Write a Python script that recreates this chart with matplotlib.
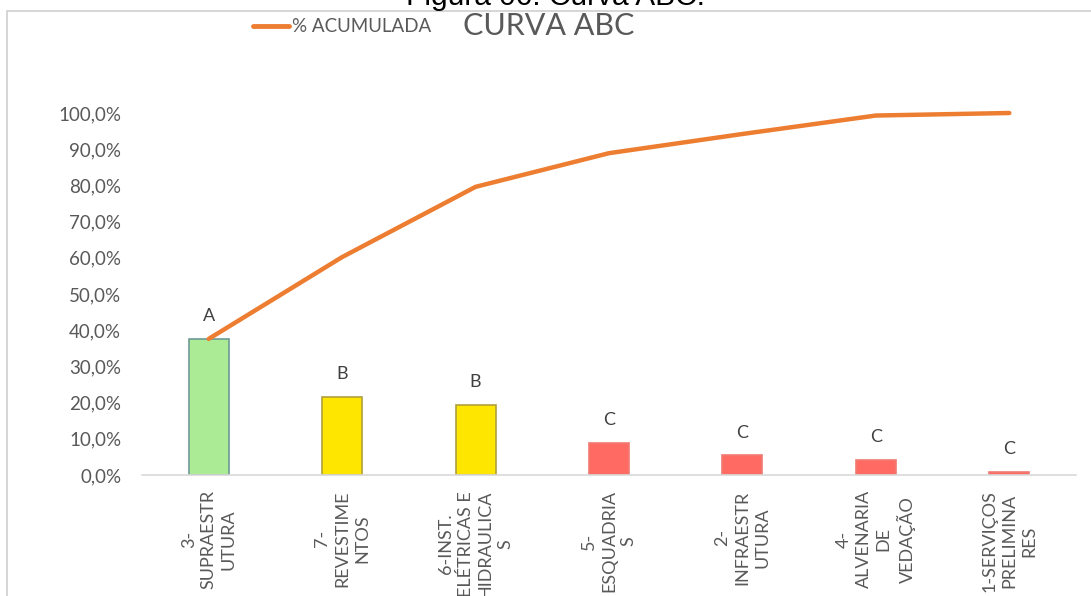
import matplotlib.pyplot as plt
from matplotlib.patches import Rectangle
from matplotlib.lines import Line2D
from matplotlib.ticker import FuncFormatter

# categories in pareto order
categorias = [
    "3-\nSUPRAESTR\nUTURA",
    "7-\nREVESTIME\nNTOS",
    "6-INST.\nELÉTRICAS E\nHIDRAULICA\nS",
    "5-\nESQUADRIA\nS",
    "2-\nINFRAESTR\nUTURA",
    "4-\nALVENARIA\nDE\nVEDAÇÃO",
    "1-SERVIÇOS\nPRELIMINA\nRES",
]
percentual = [0.376, 0.215, 0.193, 0.089, 0.054, 0.042, 0.008]
acumulada = [0.376, 0.602, 0.796, 0.889, 0.942, 0.993, 1.000]
classes = ["A", "B", "B", "C", "C", "C", "C"]
yticks = [0.0, 0.1, 0.2, 0.3, 0.4, 0.5, 0.6, 0.7, 0.8, 0.9, 1.0]

cor_classe = {"A": "#abeb96", "B": "#ffe600", "C": "#ff6b63"}
borda_classe = {"A": "#6d9b95", "B": "#b0a03c", "C": "#f07a72"}
cinza = "#595959"
laranja = "#ed7d31"

W, H = 1091, 596
fig = plt.figure(figsize=(W / 100, H / 100), dpi=100)
plt.rcParams['font.family'] = ['Lato', 'DejaVu Sans']

# plot area: 0% at y=475 px, 100% at y=113 px
x0, x1 = 142, 1076
ymax = 1.05
h = (475 - 113) * ymax
ax = fig.add_axes([x0 / W, 1 - 475 / H, (x1 - x0) / W, h / H])

xs = range(len(categorias))
cores = [cor_classe[c] for c in classes]
bordas = [borda_classe[c] for c in classes]
ax.bar(xs, percentual, width=0.3, color=cores, edgecolor=bordas, linewidth=1.2, zorder=2)
ax.plot(xs, acumulada, color=laranja, lw=3.2, solid_capstyle='round', zorder=3, clip_on=False)

for x, v, c in zip(xs, percentual, classes):
    ax.annotate(c, (x, v), xytext=(0, 16.5), textcoords='offset points',
                ha='center', va='center', fontsize=13, color="#404040")

ax.set_xlim(-0.5, len(categorias) - 0.5)
ax.set_ylim(0, ymax)
ax.set_yticks(yticks)
ax.yaxis.set_major_formatter(FuncFormatter(lambda v, p: f"{v * 100:.1f}%".replace(".", ",")))
ax.set_xticks(list(xs))
ax.set_xticklabels(categorias, rotation=90, ha='center', va='top', multialignment='center',
                   linespacing=1.3)
ax.tick_params(axis='y', length=0, pad=15, labelsize=13.5, labelcolor=cinza)
ax.tick_params(axis='x', length=0, pad=11, labelsize=13, labelcolor=cinza)
for s in ['top', 'right', 'left']:
    ax.spines[s].set_visible(False)
ax.spines['bottom'].set_color("#d9d9d9")
ax.spines['bottom'].set_linewidth(1.2)

# chart frame
fig.add_artist(Rectangle((7 / W, -0.1), 1.2, 1.1 - 11 / H, transform=fig.transFigure,
                         fill=False, edgecolor="#d0d0d0", lw=1.2))

# legend and chart title on one row
ty = 1 - 26 / H
fig.add_artist(Line2D([253 / W, 289 / W], [ty, ty], color=laranja, lw=3.5,
                      solid_capstyle='round', transform=fig.transFigure))
fig.text(292 / W, ty, "% ACUMULADA", fontsize=13.5, color=cinza, va='center', ha='left')
fig.text(463 / W, ty, "CURVA ABC", fontsize=22, color=cinza, va='center', ha='left')

# document caption cut by the top edge
fig.text(556 / W, 1 - 5 / H, "Figura 06: Curva ABC.", fontsize=21.5, color="#000000",
         ha='center', va='baseline', family='Liberation Sans')

fig.savefig("out.png", dpi=100)
